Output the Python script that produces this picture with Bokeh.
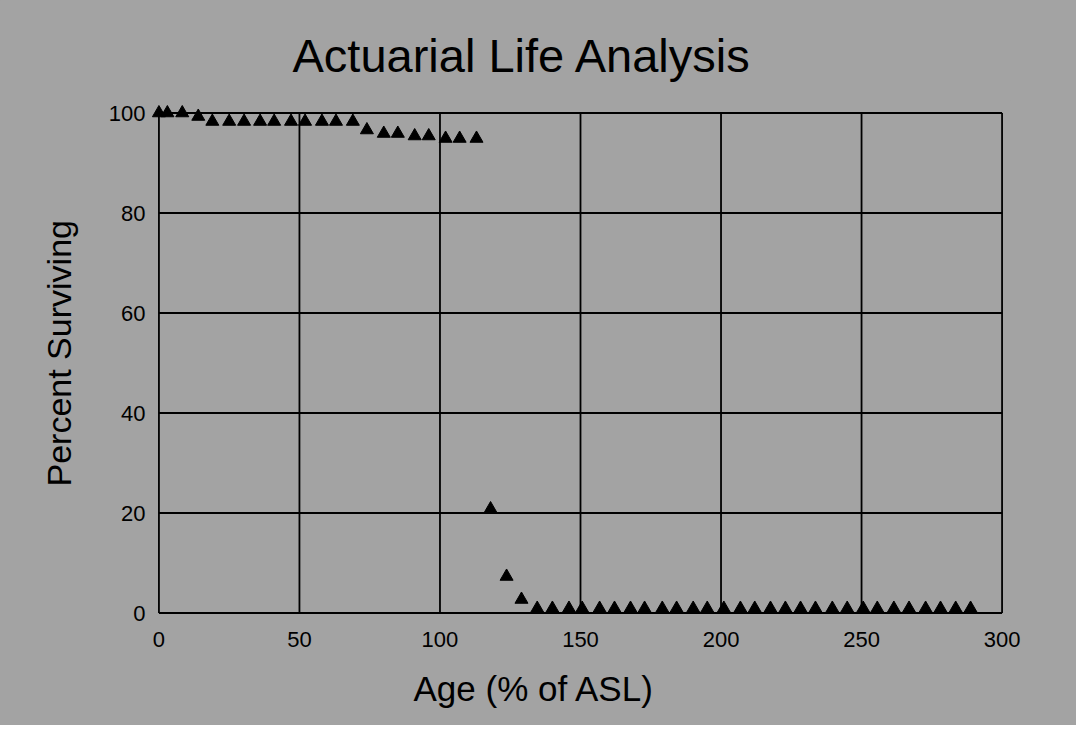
from bokeh.plotting import figure
from bokeh.models import Range1d, FixedTicker, Title, ColumnDataSource
from bokeh.embed import file_html
from bokeh.resources import INLINE

title_text = "Actuarial Life Analysis"
x_label = "Age (% of ASL)"
y_label = "Percent Surviving"

age = [0, 3, 8.3, 14, 19, 25, 30.3, 36, 41, 47, 52, 58, 63, 69, 74, 80, 85, 91, 96, 102, 107, 113,
       118, 123.7, 129,
       134.6, 140, 145.9, 150.6, 156.8, 162.1, 167.8, 172.8, 179.1, 184.2, 190.1, 195.1, 201, 206.9,
       212, 217.6, 222.9, 228.3, 233.6, 239.6, 244.9, 250.6, 255.6, 261.5, 266.9, 272.8, 278.1,
       283.5, 288.8]
surviving = [100, 100, 100, 99.3, 98.3, 98.3, 98.3, 98.3, 98.3, 98.3, 98.3, 98.3, 98.3, 98.3,
             96.6, 95.9, 95.9, 95.4, 95.4, 94.9, 94.9, 94.9,
             20.8, 7.3, 2.7,
             0.9, 0.9, 0.9, 0.9, 0.9, 0.9, 0.9, 0.9, 0.9, 0.9, 0.9, 0.9, 0.9, 0.9,
             0.9, 0.9, 0.9, 0.9, 0.9, 0.9, 0.9, 0.9, 0.9, 0.9, 0.9, 0.9, 0.9,
             0.9, 0.9]
x_ticks = [0, 50, 100, 150, 200, 250, 300]
y_ticks = [0, 20, 40, 60, 80, 100]

BG = "#a3a3a3"
FONT = "Liberation Sans"

x_min, x_max = x_ticks[0], x_ticks[-1]
y_min, y_max = y_ticks[0], y_ticks[-1]

p = figure(width=1076, height=716, frame_width=860, frame_height=525,
           x_range=Range1d(x_min - 3, x_max + 3), y_range=Range1d(y_min - 2.5, y_max + 2.5),
           output_backend="svg", toolbar_location=None,
           min_border_left=150, min_border_right=66, min_border_top=100, min_border_bottom=91)
p.background_fill_color = BG
p.border_fill_color = BG
p.outline_line_color = None
p.styles = {"background-color": BG}

p.title.text = title_text
p.title.align = "left"
p.title.offset = 142
p.title.standoff = 37
p.title.text_font = FONT
p.title.text_font_size = "47px"
p.title.text_font_style = "normal"
p.title.text_color = "black"

for ax, ticks in ((p.xaxis[0], x_ticks), (p.yaxis[0], y_ticks)):
    ax.ticker = FixedTicker(ticks=ticks)
    ax.axis_line_color = None
    ax.major_tick_line_color = None
    ax.minor_tick_line_color = None
    ax.major_label_text_font = FONT
    ax.major_label_text_font_size = "22px"
    ax.major_label_text_color = "black"
p.xaxis.major_label_standoff = 0
p.yaxis.major_label_standoff = -1

p.xgrid.visible = False
p.ygrid.visible = False

# grid lines / plot box, drawn only inside the data box
p.segment(x0=x_ticks, y0=[y_min] * len(x_ticks), x1=x_ticks, y1=[y_max] * len(x_ticks),
          line_color="black", line_width=1.8)
p.segment(x0=[x_min] * len(y_ticks), y0=y_ticks, x1=[x_max] * len(y_ticks), y1=y_ticks,
          line_color="black", line_width=1.8)

src = ColumnDataSource(dict(age=age, surviving=surviving))
p.scatter("age", "surviving", source=src, marker="triangle", size=13,
          fill_color="black", line_color="black")

p.add_layout(Title(text=x_label, align="left", offset=263, standoff=35,
                   text_font=FONT, text_font_size="35px", text_font_style="normal",
                   text_color="black"), "below")
p.add_layout(Title(text=y_label, align="left", offset=139, standoff=55,
                   text_font=FONT, text_font_size="34px", text_font_style="normal",
                   text_color="black"), "left")

open("out.html", "w").write(file_html(p, INLINE))
